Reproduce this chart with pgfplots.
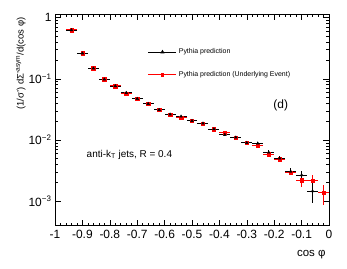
\documentclass[border=0pt]{standalone}
\usepackage{pgfplots}
\pgfplotsset{compat=1.18}
\usepackage{fontspec}
\setmainfont{Liberation Sans}
\begin{document}
\begin{tikzpicture}
\useasboundingbox (-55bp,-43.5bp) rectangle (292bp,225.5bp);
\begin{axis}[
  at={(0,0)}, anchor=south west,
  scale only axis, width=274bp, height=211.5bp,
  ymode=log, xmin=-1, xmax=0, ymin=4e-4, ymax=1.15,
  xtick={-1,-0.9,-0.8,-0.7,-0.6,-0.5,-0.4,-0.3,-0.2,-0.1,0},
  xticklabels={-1,-0.9,-0.8,-0.7,-0.6,-0.5,-0.4,-0.3,-0.2,-0.1,0},
  minor x tick num=4,
  ytick={1e-3,1e-2,1e-1,1},
  yticklabels={10\textsuperscript{−3},10\textsuperscript{−2},10\textsuperscript{−1},1},
  tick align=inside, tick pos=both,
  major tick length=6bp, minor tick length=3bp,
  tick style={black, line width=0.6pt},
  axis line style={line width=0.8pt},
  tick label style={font=\fontsize{12}{14}\selectfont},
  xticklabel style={yshift=-1bp},
  ylabel={(1/σ') dΣ'\textsuperscript{asym}/d(cos φ)},
  ylabel style={at={(axis description cs:-0.124,1)}, anchor=east, font=\fontsize{9.5}{11}\selectfont},
  xlabel={cos φ},
  xlabel style={at={(axis description cs:1,-0.139)}, anchor=east, font=\fontsize{11.5}{13}\selectfont},
  legend image code/.code={\draw[mark repeat=2,mark phase=2,#1] plot coordinates {(0bp,0bp) (14bp,0bp) (28bp,0bp)};},
  legend style={at={(rel axis cs:0.328,0.855)}, anchor=north west, draw=none, fill=none,
    font=\fontsize{7}{8}\selectfont, row sep=12bp},
  legend cell align=left,
]
\addlegendimage{black, line width=0.8pt, mark=triangle*, mark size=1.6pt}
\addlegendentry{Pythia prediction}
\addlegendimage{red, line width=0.8pt, mark=square*, mark size=1.4pt}
\addlegendentry{Pythia prediction (Underlying Event)}

% red: Underlying Event
\addplot[forget plot, only marks, red, mark=square*, mark size=1.7pt,
  error bars/.cd, x dir=both, x explicit, y dir=both, y explicit,
  error mark=none, error bar style={line width=1.2pt, red}]
table[x=x, y=y, x error=ex, y error=ey] {
x y ex ey
-0.94 0.629 0.02 0.005
-0.90 0.2615 0.02 0.003
-0.86 0.1485 0.02 0.002
-0.82 0.0981 0.02 0.0015
-0.78 0.0762 0.02 0.0012
-0.74 0.0570 0.02 0.0010
-0.70 0.0472 0.02 0.0008
-0.66 0.0391 0.02 0.0007
-0.62 0.0312 0.02 0.0006
-0.58 0.0262 0.02 0.0005
-0.54 0.0231 0.02 0.0005
-0.50 0.0206 0.02 0.0005
-0.46 0.0187 0.02 0.0004
-0.42 0.01508 0.02 0.0004
-0.38 0.01312 0.02 0.0004
-0.34 0.01103 0.02 0.0003
-0.30 0.00899 0.02 0.0003
-0.26 0.00804 0.02 0.0005
-0.22 0.00588 0.02 0.0004
-0.18 0.00487 0.02 0.0003
-0.14 0.00295 0.02 0.0003
-0.10 0.00221 0.02 0.00048
-0.06 0.00215 0.02 0.00053
-0.02 0.00137 0.02 0.0005
};

% black: Pythia prediction
\addplot[forget plot, only marks, black, mark=triangle*, mark size=1.6pt,
  error bars/.cd, x dir=both, x explicit, y dir=both, y explicit,
  error mark=none, error bar style={line width=1.0pt, black}]
table[x=x, y=y, x error=ex, y error=ey] {
x y ex ey
-0.94 0.629 0.02 0.005
-0.90 0.2615 0.02 0.003
-0.86 0.1485 0.02 0.002
-0.82 0.0981 0.02 0.0015
-0.78 0.0762 0.02 0.0012
-0.74 0.0592 0.02 0.0010
-0.70 0.0472 0.02 0.0008
-0.66 0.0391 0.02 0.0007
-0.62 0.0312 0.02 0.0006
-0.58 0.0262 0.02 0.0005
-0.54 0.0243 0.02 0.0005
-0.50 0.0206 0.02 0.0005
-0.46 0.0187 0.02 0.0004
-0.42 0.01508 0.02 0.0004
-0.38 0.01217 0.02 0.0004
-0.34 0.01103 0.02 0.0003
-0.30 0.00899 0.02 0.0003
-0.26 0.00879 0.02 0.0006
-0.22 0.00627 0.02 0.0005
-0.18 0.00500 0.02 0.0004
-0.14 0.00306 0.02 0.0004
-0.10 0.00267 0.02 0.0004
-0.06 0.00146 0.02 0.00052
};

\node[anchor=center, font=\fontsize{12}{14}\selectfont] at (rel axis cs:0.824,0.57) {(d)};
\node[anchor=west, font=\fontsize{10}{12}\selectfont] at (rel axis cs:0.103,0.335) {anti-k\textsubscript{T} jets, R = 0.4};
\end{axis}
\end{tikzpicture}
\end{document}
